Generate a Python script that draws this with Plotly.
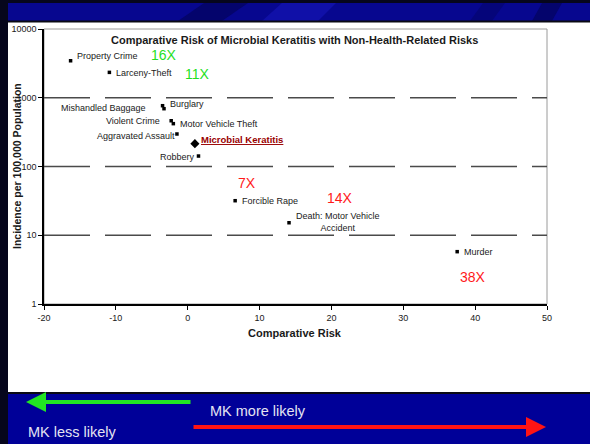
import numpy as np
import plotly.graph_objects as go

# Canvas and plot-area geometry (pixels)
W, H = 590, 444
ML, MR, MT, MB = 44, 43, 29, 140
PW = W - ML - MR
PH = H - MT - MB


def px(xp):
    """pixel x -> paper x"""
    return (xp - ML) / PW


def py(yp):
    """pixel y (from top) -> paper y"""
    return (H - MB - yp) / PH


# ---- data -------------------------------------------------------------
risk_names = [
    "Property Crime", "Larceny-Theft", "Mishandled Baggage", "Burglary",
    "Violent Crime", "Motor Vehicle Theft", "Aggravated Assault", "Robbery",
    "Forcible Rape", "Death: Motor Vehicle<br>Accident", "Murder",
]
comparative_risk = [-16.3, -10.9, -3.5, -3.3, -2.3, -2.0, -1.5, 1.5, 6.6, 14.1, 37.5]
incidence = [3450, 2340, 766, 693, 463, 420, 297, 142, 31.8, 15.2, 5.77]

mk_name = "Microbial Keratitis"
mk_risk = 1
mk_incidence = 215

x_ticks = [-20, -10, 0, 10, 20, 30, 40, 50]
x_tick_text = ["-20", "-10", "0", "10", "20", "30", "40", "50"]
y_ticks = [1, 10, 100, 1000, 10000]
y_tick_text = ["1", "10", "100", "1000", "10000"]
grid_levels = [10, 100, 1000]

# ratio callouts: which risks get a "NX" tag and its colour
ratio_tags = {
    "Property Crime": "#1fe01f",
    "Larceny-Theft": "#1fe01f",
    "Forcible Rape": "#ff1a1a",
    "Death: Motor Vehicle<br>Accident": "#ff1a1a",
    "Murder": "#ff1a1a",
}

# ---- label placement (anchor, dx, dy in px) ---------------------------
label_pos = {
    "Property Crime": ("left", 5, 5),
    "Larceny-Theft": ("left", 6, -1),
    "Mishandled Baggage": ("right", -16, -2),
    "Burglary": ("left", 5, 5),
    "Violent Crime": ("right", -10, 0),
    "Motor Vehicle Theft": ("left", 6, 0),
    "Aggravated Assault": ("right", -1, -2),
    "Robbery": ("right", -2, -1),
    "Forcible Rape": ("left", 6, 0),
    "Death: Motor Vehicle<br>Accident": ("left", 6, 1),
    "Murder": ("left", 6, 0),
}
tag_pos = {
    "Property Crime": (79, 6),
    "Larceny-Theft": (75, -2),
    "Forcible Rape": (2, 18),
    "Death: Motor Vehicle<br>Accident": (37, 25),
    "Murder": (2, -25),
}

FONT = "Arial, Liberation Sans, sans-serif"
TXT = "#1a1a1a"

fig = go.Figure()

# dashed horizontal grid lines at each decade
gx, gy = [], []
for g in grid_levels:
    gx += [x_ticks[0], x_ticks[-1], None]
    gy += [g, g, None]
fig.add_trace(go.Scatter(
    x=gx, y=gy, mode="lines", hoverinfo="skip", showlegend=False,
    line=dict(color="#4a4a4a", width=1.6, dash="46px,15px"),
))

# risk points
fig.add_trace(go.Scatter(
    x=comparative_risk, y=incidence, mode="markers", showlegend=False,
    marker=dict(symbol="square", size=3.5, color="black"),
))
# microbial keratitis point
fig.add_trace(go.Scatter(
    x=[mk_risk], y=[mk_incidence], mode="markers", showlegend=False,
    marker=dict(symbol="diamond", size=7, color="black"),
))

annotations = []
for name, xv, yv in zip(risk_names, comparative_risk, incidence):
    anchor, dx, dy = label_pos[name]
    annotations.append(dict(
        x=xv, y=np.log10(yv), xref="x", yref="y", text=name, showarrow=False,
        xanchor=anchor, yanchor="middle", xshift=dx, yshift=dy, align="center",
        font=dict(family=FONT, size=9, color=TXT), borderpad=0,
    ))
    if name in ratio_tags:
        tdx, tdy = tag_pos[name]
        annotations.append(dict(
            x=xv, y=np.log10(yv), xref="x", yref="y",
            text=f"{abs(round(xv))}X", showarrow=False,
            xanchor="left", yanchor="middle", xshift=tdx, yshift=tdy,
            font=dict(family=FONT, size=14, color=ratio_tags[name]), borderpad=0,
        ))

annotations.append(dict(
    x=mk_risk, y=np.log10(mk_incidence), xref="x", yref="y",
    text=f"<b><u>{mk_name}</u></b>", showarrow=False,
    xanchor="left", yanchor="middle", xshift=5, yshift=4,
    font=dict(family=FONT, size=9.5, color="#990000"), borderpad=0,
))

# chart title and axis titles
annotations += [
    dict(x=px(294), y=py(40), xref="paper", yref="paper", showarrow=False,
         text="<b>Comparative Risk of Microbial Keratitis with Non-Health-Related Risks</b>",
         xanchor="center", yanchor="middle",
         font=dict(family=FONT, size=11, color=TXT)),
    dict(x=px(17), y=py(166), xref="paper", yref="paper", showarrow=False,
         text="<b>Incidence per 100,000 Population</b>", textangle=-90,
         xanchor="center", yanchor="middle",
         font=dict(family=FONT, size=10.5, color=TXT)),
    dict(x=px(295), y=py(333), xref="paper", yref="paper", showarrow=False,
         text="<b>Comparative Risk</b>", xanchor="center", yanchor="middle",
         font=dict(family=FONT, size=11, color=TXT)),
]

# footer captions and direction arrows
annotations += [
    dict(x=px(208), y=py(410.5), xref="paper", yref="paper", showarrow=False,
         text="MK more likely", xanchor="left", yanchor="middle",
         font=dict(family=FONT, size=14.5, color="#e4e4f2")),
    dict(x=px(26), y=py(432), xref="paper", yref="paper", showarrow=False,
         text="MK less likely", xanchor="left", yanchor="middle",
         font=dict(family=FONT, size=14.5, color="#e4e4f2")),
    dict(x=px(26), y=py(402), xref="paper", yref="paper", text="",
         showarrow=True, ax=166, ay=0, arrowhead=2, arrowsize=1.0,
         arrowwidth=4, arrowcolor="#22e622", standoff=0),
    dict(x=px(546), y=py(427), xref="paper", yref="paper", text="",
         showarrow=True, ax=-354, ay=0, arrowhead=2, arrowsize=1.0,
         arrowwidth=4, arrowcolor="#ff1414", standoff=0),
]

# slide frame: header band, footer band, dark left edge, plot border
shapes = [
    dict(type="rect", xref="paper", yref="paper", x0=px(0), x1=px(W),
         y0=py(0), y1=py(21), fillcolor="#07078f", line_width=0, layer="below"),
    dict(type="path", xref="paper", yref="paper", layer="below", line_width=0,
         fillcolor="#04046c",
         path=f"M{px(178)},{py(21)} L{px(222)},{py(21)} L{px(248)},{py(3)} L{px(204)},{py(3)} Z"),
    dict(type="path", xref="paper", yref="paper", layer="below", line_width=0,
         fillcolor="#1010a8",
         path=f"M{px(262)},{py(21)} L{px(318)},{py(21)} L{px(336)},{py(3)} L{px(282)},{py(3)} Z"),
    dict(type="path", xref="paper", yref="paper", layer="below", line_width=0,
         fillcolor="#05057a",
         path=f"M{px(470)},{py(21)} L{px(492)},{py(21)} L{px(505)},{py(3)} L{px(483)},{py(3)} Z"),
    dict(type="path", xref="paper", yref="paper", layer="below", line_width=0,
         fillcolor="#04046c",
         path=f"M{px(532)},{py(21)} L{px(552)},{py(21)} L{px(562)},{py(3)} L{px(542)},{py(3)} Z"),
    dict(type="rect", xref="paper", yref="paper", x0=px(0), x1=px(W),
         y0=py(0), y1=py(3), fillcolor="#06061c", line_width=0, layer="below"),
    dict(type="rect", xref="paper", yref="paper", x0=px(0), x1=px(W),
         y0=py(20.5), y1=py(22.5), fillcolor="#0a0a14", line_width=0, layer="below"),
    dict(type="rect", xref="paper", yref="paper", x0=px(0), x1=px(W),
         y0=py(393), y1=py(H), fillcolor="#000098", line_width=0, layer="below"),
    dict(type="rect", xref="paper", yref="paper", x0=px(0), x1=px(W),
         y0=py(392), y1=py(394), fillcolor="#0a0a14", line_width=0, layer="below"),
    dict(type="rect", xref="paper", yref="paper", x0=px(0), x1=px(8),
         y0=py(0), y1=py(H), fillcolor="#06061c", line_width=0, layer="below"),
    dict(type="rect", xref="paper", yref="paper", x0=0, x1=1, y0=0, y1=1,
         line=dict(color="#9a9a9a", width=1), layer="below"),
]

fig.update_layout(
    width=W, height=H,
    margin=dict(l=ML, r=MR, t=MT, b=MB, pad=0),
    paper_bgcolor="white", plot_bgcolor="white",
    showlegend=False,
    annotations=annotations,
    shapes=shapes,
    xaxis=dict(
        range=[x_ticks[0], x_ticks[-1]], tickvals=x_ticks, ticktext=x_tick_text,
        showgrid=False, zeroline=False,
        showline=True, linecolor="black", linewidth=1.5,
        ticks="outside", ticklen=4, tickcolor="black", tickwidth=1,
        tickfont=dict(family=FONT, size=9, color=TXT),
        fixedrange=True,
    ),
    yaxis=dict(
        type="log", range=[0, 4], tickvals=y_ticks, ticktext=y_tick_text,
        showgrid=False, zeroline=False,
        showline=True, linecolor="black", linewidth=1.5,
        ticks="outside", ticklen=4, tickcolor="black", tickwidth=1,
        tickfont=dict(family=FONT, size=9, color=TXT),
        fixedrange=True,
    ),
)

fig.write_html("out.html", config={"displayModeBar": False})
